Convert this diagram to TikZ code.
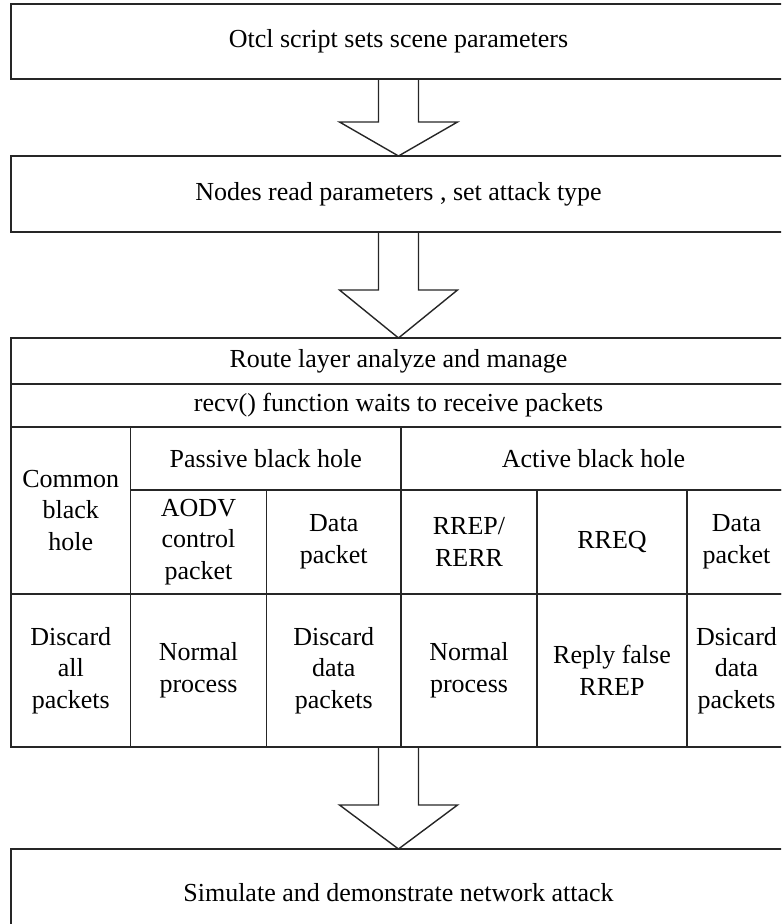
\documentclass[tikz,border=0pt]{standalone}
\usepackage{fontspec}
\setmainfont{Liberation Serif}
\usetikzlibrary{calc,positioning}

\tikzset{
  stagebox/.style={rectangle, draw=black!85, line width=0.7pt, minimum width=387.5pt,
    inner sep=0pt, outer sep=0pt, align=center, font=\fontsize{13}{15.8}\selectfont},
  tablecell/.style={rectangle, draw=black!85, line width=0.7pt, inner sep=0pt,
    outer sep=0pt, align=center, font=\fontsize{13}{15.8}\selectfont},
  blockarrow/.style={draw=black!85, line width=0.7pt, line join=miter},
}

% hollow down arrow: from #1 (bottom edge) to #2 (top edge), head length #3
\newcommand{\hollowarrow}[3]{%
  \draw[blockarrow] ($(#1.south -| #2.north)+(-20,0)$) -- ($(#2.north)+(-20,-#3)$)
    -- ($(#2.north)+(-59,-#3)$) -- (#2.north) -- ($(#2.north)+(59,-#3)$)
    -- ($(#2.north)+(20,-#3)$) -- ($(#1.south -| #2.north)+(20,0)$);}

\begin{document}
\begin{tikzpicture}[x=0.5pt, y=-0.5pt]
  \useasboundingbox (0,0) rectangle (781,924);
  \clip (0,0) rectangle (781,924);

  % ============ Stage boxes ============
  \node[stagebox, minimum height=37.5pt] (otcl)  at (398.5, 41.5) {Otcl script sets scene parameters};
  \node[stagebox, minimum height=38pt]   (nodes) at (398.5, 194)  {Nodes read parameters , set attack type};

  % ============ Route layer table ============
  \node[tablecell, minimum width=387.5pt, minimum height=23pt]   (route) at (398.5, 361)   {Route layer analyze and manage};
  \node[tablecell, minimum width=387.5pt, minimum height=21.5pt] (recv)  at (398.5, 405.5) {recv() function waits to receive packets};

  \node[tablecell, minimum width=59.75pt, minimum height=83.5pt] (common)  at (70.75, 510.5) {Common\\black\\hole};
  \node[tablecell, minimum width=135.25pt, minimum height=31.5pt] (passive) at (265.75, 458.5) {Passive black hole};
  \node[tablecell, minimum width=192.5pt, minimum height=31.5pt]  (active)  at (593.5, 458.5)  {Active black hole};

  % packet types (y = 490..594)
  \node[tablecell, minimum width=68pt,    minimum height=52pt] (aodv)  at (198.5, 542)  {AODV\\control\\packet};
  \node[tablecell, minimum width=67.25pt, minimum height=52pt] (pdata) at (333.75, 542) {Data\\packet};
  \node[tablecell, minimum width=68pt,    minimum height=52pt] (rrep)  at (469, 542)    {RREP/\\RERR};
  \node[tablecell, minimum width=75pt,    minimum height=52pt] (rreq)  at (612, 542)    {RREQ};
  \node[tablecell, minimum width=49.5pt,  minimum height=52pt] (adata) at (736.5, 542)  {Data\\packet};

  % actions (y = 594..747)
  \node[tablecell, minimum width=59.75pt, minimum height=76.5pt] (discardall) at (70.75, 670.5)  {Discard\\all\\packets};
  \node[tablecell, minimum width=68pt,    minimum height=76.5pt] (pnormal)    at (198.5, 670.5)  {Normal\\process};
  \node[tablecell, minimum width=67.25pt, minimum height=76.5pt] (pdiscard)   at (333.75, 670.5) {Discard\\data\\packets};
  \node[tablecell, minimum width=68pt,    minimum height=76.5pt] (anormal)    at (469, 670.5)    {Normal\\process};
  \node[tablecell, minimum width=75pt,    minimum height=76.5pt] (falserrep)  at (612, 670.5)    {Reply false\\RREP};
  \node[tablecell, minimum width=49.5pt,  minimum height=76.5pt] (adiscard)   at (736.5, 670.5)  {Dsicard\\data\\packets};

  % ============ Last stage ============
  \node[stagebox, minimum height=44pt] (simulate) at (398.5, 893) {Simulate and demonstrate network attack};

  % ============ Block arrows ============
  \hollowarrow{otcl}{nodes}{34}
  \hollowarrow{nodes}{route}{48}
  \hollowarrow{pdiscard}{simulate}{44}

\end{tikzpicture}
\end{document}
